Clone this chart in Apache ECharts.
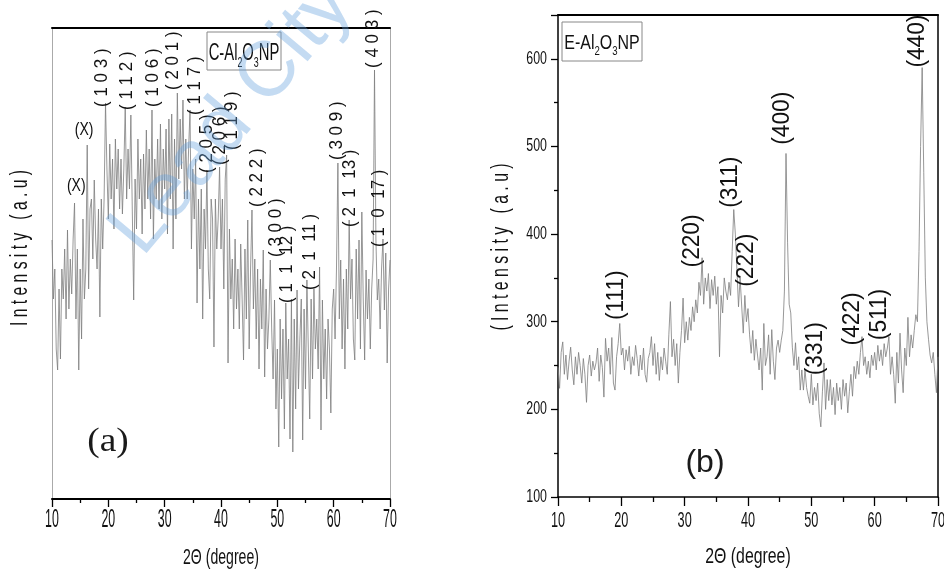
<!DOCTYPE html>
<html><head><meta charset="utf-8">
<script src="https://cdn.jsdelivr.net/npm/echarts@6/dist/echarts.min.js"></script>
<style>html,body{margin:0;padding:0;background:#fff}#c{width:944px;height:574px}</style>
</head><body><div id="c"></div>
<script>
// ---------- data ----------
const thetaStart = 10, thetaStep = 0.25;   // 2θ grid of both patterns (deg)

// (a) C-Al2O3NP, arbitrary intensity units
const intensityA = [
 259,200,230,150, 129,210,140,230, 200,250,180,269, 190,240,205,260,
 296,180,250,129, 230,160,280,200, 230,354,210,290, 300,240,319,260,
 230,290,182,300, 250,300,396,330, 280,355,300,340, 270,360,310,350,
 290,340,285,330, 392,300,350,310, 384,290,199,320, 270,360,300,340,
 265,345,290,369, 300,350,280,389, 260,340,300,360, 290,375,280,350,
 310,370,265,380, 300,385,250,360, 280,406,320,380, 330,399,300,360,
 300,350,389,250, 330,280,340,196, 300,230,310,180, 290,250,329,230,
 200,300,280,152, 300,250,280,332, 250,300,210,320, 344,136,270,200,
 240,170,260,190, 230,170,255,200, 139,250,180,279, 150,230,289,190,
 240,160,230,130, 220,170,249,122, 210,150,180,239, 170,120,199,90,
 150,52,180,100, 170,70,196,120, 160,60,200,47, 180,90,209,110,
 160,200,59,190, 110,219,150,80, 200,120,210,150, 180,130,232,69,
 199,120,170,100, 180,150,86,190, 210,160,230,336, 180,239,150,220,
 130,230,170,279, 200,240,160,139, 250,180,259,150, 287,200,139,229,
 180,220,150,210, 240,429,260,199, 220,170,230,260, 189,246,136,210,
 239
];

// (b) E-Al2O3NP, intensity (a.u)
const intensityB = [
 248,224,265,277, 240,262,234,255, 271,245,228,260, 240,265,250,230,
 258,240,208,250, 262,238,255,245, 253,270,232,262, 248,214,281,255,
 270,240,282,230, 222,260,275,298, 262,270,245,268, 255,272,240,260,
 250,273,258,238, 262,245,270,240, 231,258,265,283, 250,275,240,265,
 233,260,245,270, 255,240,285,323, 260,280,250,275, 230,265,290,327,
 276,300,279,305, 290,317,300,325, 310,345,330,373, 320,350,335,355,
 315,348,330,352, 320,340,260,330, 310,350,335,325, 345,330,380,428,
 400,360,317,350, 351,287,330,300, 315,285,264,290, 256,280,262,245,
 270,222,298,250, 260,285,240,291, 255,234,270,279, 265,279,290,335,
 492,390,320,310, 271,250,276,245, 260,222,245,222, 245,225,215,207,
 240,205,225,210, 230,195,180,220, 253,200,234,210, 234,205,225,194,
 230,210,225,200, 234,215,230,196, 220,240,215,249, 235,255,240,265,
 283,250,260,240, 255,236,262,250, 265,245,273,255, 268,250,275,260,
 270,283,240,260, 240,207,265,230, 287,245,219,270, 250,305,260,285,
 270,290,308,300, 380,500,590,470, 350,300,280,262, 253,265,240,219,
 260
];

const xTickValues = [10, 20, 30, 40, 50, 60, 70];
const yTickValuesB = [100, 200, 300, 400, 500, 600];

// peak labels (a): text, 2θ, intensity where label starts
const hklA      = ['( 1 0 3 )','( 1 1 2 )','( 1 0 6 )','( 2 0 1 )','( 1 1 7 )','( 2 0 5 )','( 2 0 6 )','( 1 1 9 )','( 2 2 2 )','( 3 0 0 )','( 1  1  12 )','( 2  1  11 )','( 3 0 9 )','( 2  1  13 )','( 1  0  17 )','( 4 0 3 )'];
const hklATheta = [18.9, 23.3, 27.9, 31.5, 35.4, 37.5, 39.8, 42.0, 46.4, 49.8, 51.7, 55.8, 60.6, 62.9, 68.1, 67.0];
const hklAInt   = [392, 389, 392, 409, 384, 326, 334, 349, 292, 242, 196, 209, 339, 272, 252, 431];
const impA      = ['(X)', '(X)'];
const impATheta = [15.7, 14.3];
const impAInt   = [369, 313];

// peak labels (b)
const hklB      = ['(111)','(220)','(311)','(222)','(400)','(331)','(422)','(511)','(440)'];
const hklBTheta = [19.3, 31.2, 37.3, 39.8, 45.5, 50.7, 56.6, 60.8, 66.8];
const hklBInt   = [302, 362, 430, 340, 502, 239, 273, 279, 590];

// ---------- chart ----------
const FONT = "'Liberation Sans', Arial, sans-serif";
const toPairs = arr => arr.map((v, i) => [thetaStart + i * thetaStep, v]);
const chart = echarts.init(document.getElementById('c'), null, {renderer: 'canvas'});

function xAx(grid, pos, lineColor, lineWidth, ticks, tickLen, minorLen) {
  return {
    type: 'value', gridIndex: grid, position: pos, min: 10, max: 70, interval: 10,
    axisLine: {show: true, onZero: false, lineStyle: {color: lineColor, width: lineWidth}},
    axisTick: {show: ticks, inside: false, length: tickLen, lineStyle: {color: '#000', width: 1.3}},
    minorTick: {show: ticks, splitNumber: 2, length: minorLen, lineStyle: {color: '#000', width: 1.3}},
    axisLabel: {show: false}, splitLine: {show: false}, minorSplitLine: {show: false}
  };
}
function yAx(grid, pos, min, max, lineColor, lineWidth, ticks) {
  return {
    type: 'value', gridIndex: grid, position: pos, min: min, max: max, interval: 100,
    axisLine: {show: true, onZero: false, lineStyle: {color: lineColor, width: lineWidth}},
    axisTick: {show: ticks, inside: false, length: 7, lineStyle: {color: '#000', width: 1.3}},
    minorTick: {show: ticks, splitNumber: 2, length: 4, lineStyle: {color: '#000', width: 1.3}},
    axisLabel: {show: false}, splitLine: {show: false}, minorSplitLine: {show: false}
  };
}

chart.setOption({
  animation: false,
  backgroundColor: '#fff',
  grid: [
    {left: 52, right: 554, top: 28, bottom: 75},
    {left: 558, right: 6, top: 15, bottom: 77}
  ],
  xAxis: [
    xAx(0, 'bottom', '#000', 2, true, 8, 4),
    xAx(0, 'top', '#000', 2, false, 0, 0),
    xAx(1, 'bottom', '#000', 1.5, true, 9, 5),
    xAx(1, 'top', '#000', 2, false, 0, 0)
  ],
  yAxis: [
    yAx(0, 'left', 0, 471, '#aaa', 1, false),
    yAx(0, 'right', 0, 471, '#aaa', 1, false),
    yAx(1, 'left', 100, 650, '#000', 1.5, true),
    yAx(1, 'right', 100, 650, '#000', 1.5, false)
  ],
  series: [
    {type: 'line', xAxisIndex: 0, yAxisIndex: 0, data: toPairs(intensityA), symbol: 'none',
     lineStyle: {color: '#7d7d7d', width: 0.8}, z: 2},
    {type: 'line', xAxisIndex: 2, yAxisIndex: 2, data: toPairs(intensityB), symbol: 'none',
     lineStyle: {color: '#7d7d7d', width: 0.8}, z: 2}
  ]
});

// ---------- texts ----------
const xp = (ax, v) => chart.convertToPixel({xAxisIndex: ax}, v);
const yp = (ax, v) => chart.convertToPixel({yAxisIndex: ax}, v);
const g = [];
function txt(x, y, text, s) {
  g.push({
    type: 'text', x: x, y: y, rotation: s.rot || 0, scaleX: s.sx || 1, scaleY: s.sy || 1, z: s.z || 100,
    style: {
      text: text, fontSize: s.size, fontFamily: s.family || FONT, fontWeight: s.weight || 'normal',
      fill: s.fill || '#111', align: s.align || 'center', verticalAlign: s.va || 'middle',
      textAlign: s.align || 'center', textVerticalAlign: s.va || 'middle'
    }
  });
}

// tick labels
xTickValues.forEach(v => {
  txt(xp(0, v), yp(0, 0) + 21, String(v), {size: 15.5, sx: 0.8, sy: 1.65});
  txt(xp(2, v), yp(2, 100) + 24, String(v), {size: 15.5, sx: 0.82, sy: 1.4});
});
yTickValuesB.forEach(v => {
  txt(xp(2, 10) - 11, yp(2, v), String(v), {size: 15.5, sx: 0.8, sy: 1.15, align: 'right'});
});

// axis titles
txt(221, 558, '2\u0398 (degree)', {size: 16, sx: 0.88, sy: 1.4});
txt(748, 557, '2\u0398 (degree)', {size: 16, sx: 0.99, sy: 1.4});
txt(21, 248, 'I n t e n s i t y   ( a . u )', {size: 16, rot: Math.PI / 2, sx: 0.98, sy: 1.45});
txt(502, 247, '( I n t e n s i t y   ( a . u )', {size: 16, rot: Math.PI / 2, sx: 0.99, sy: 1.45});

// panel letters
txt(108, 442, '(a)', {size: 34, sx: 1.1, family: "'Liberation Serif', 'Times New Roman', serif", fill: '#1a1a1a'});
txt(705, 463, '(b)', {size: 32, family: FONT, fill: '#1a1a1a'});

// hkl labels
hklA.forEach((t, i) => {
  txt(xp(0, hklATheta[i]), yp(0, hklAInt[i]), t, {size: 17, rot: Math.PI / 2, align: 'left', sy: 1.05});
});
impA.forEach((t, i) => {
  txt(xp(0, impATheta[i]), yp(0, impAInt[i]), t, {size: 14, sy: 1.3});
});
hklB.forEach((t, i) => {
  txt(xp(2, hklBTheta[i]), yp(2, hklBInt[i]), t, {size: 22, rot: Math.PI / 2, align: 'left', sx: 1.03, sy: 1.05});
});

// legend boxes
function legendBox(x, y, w, h, head, sx, sy) {
  g.push({type: 'rect', z: 90, shape: {x: x, y: y, width: w, height: h},
          style: {fill: '#fff', stroke: '#888', lineWidth: 1}});
  g.push({type: 'text', z: 101, x: x + w / 2, y: y + h / 2 + 2, scaleX: sx, scaleY: sy,
    style: {
      text: '{n|' + head + '-Al}{s|2}{n|O}{s|3}{n|NP}',
      align: 'center', verticalAlign: 'middle', textAlign: 'center', textVerticalAlign: 'middle',
      rich: {
        n: {fontSize: 20, fontFamily: FONT, fill: '#111', lineHeight: 28, verticalAlign: 'middle'},
        s: {fontSize: 12, fontFamily: FONT, fill: '#111', verticalAlign: 'bottom'}
      }
    }});
}
legendBox(207, 32, 74, 38, 'C', 0.74, 1.2);
legendBox(562, 22, 80, 39, 'E', 0.8, 1.05);

// watermark
g.push({type: 'text', z: 200, x: 232, y: 118, rotation: 50 * Math.PI / 180,
  style: {text: 'Lead City', fontSize: 78, fontFamily: FONT, fill: 'rgba(100,160,220,0.38)',
          align: 'center', verticalAlign: 'middle', textAlign: 'center', textVerticalAlign: 'middle'}});

chart.setOption({graphic: g});
</script>
</body></html>
